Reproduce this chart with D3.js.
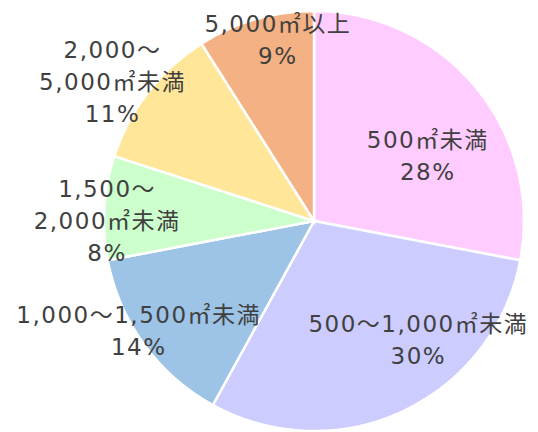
<!DOCTYPE html>
<html>
<head>
<meta charset="utf-8">
<script src="https://cdn.jsdelivr.net/npm/d3@7"></script>
<style>
  body { margin: 0; background: #fff; }
  svg text { font-family: "DejaVu Sans", "Noto Sans CJK JP", sans-serif; fill: #404040; }
</style>
</head>
<body>
<svg id="pie"></svg>
<script>
// data
const categories = ["500㎡未満", "500～1,000㎡未満", "1,000～1,500㎡未満", "1,500～2,000㎡未満", "2,000～5,000㎡未満", "5,000㎡以上"];
const shares = [28, 30, 14, 8, 11, 9];
// how each label is broken into lines
const labelLines = [
  ["500㎡未満"],
  ["500～1,000㎡未満"],
  ["1,000～1,500㎡未満"],
  ["1,500～", "2,000㎡未満"],
  ["2,000～", "5,000㎡未満"],
  ["5,000㎡以上"]
];
const colors = ["#ffccff", "#ccccff", "#9dc3e6", "#ccffcc", "#ffe699", "#f4b183"];

// label placement: angle (deg, clockwise from top) and distance as share of radius
const labelAngle = [60, 139, 238, 270, 304.5, 348.4];
const labelDist = [0.62, 0.75, 0.99, 0.99, 1.17, 0.88];

const width = 538, height = 432;
const cx = 314, cy = 221, radius = 210;

const svg = d3.select("#pie")
  .attr("width", width)
  .attr("height", height);

const g = svg.append("g")
  .attr("transform", `translate(${cx}, ${cy})`);

const pie = d3.pie()
  .sort(null)
  .value(d => d.value);

const arc = d3.arc()
  .innerRadius(0)
  .outerRadius(radius);

const rows = categories.map((c, i) => ({ name: c, value: shares[i], color: colors[i], lines: labelLines[i] }));

g.selectAll(".slice")
  .data(pie(rows))
  .enter()
  .append("path")
    .classed("slice", true)
    .attr("d", arc)
    .attr("fill", d => d.data.color)
    .attr("stroke", "#fff")
    .attr("stroke-width", 2.5);

// labels
const lineH = 32;
const labels = g.selectAll(".label")
  .data(pie(rows))
  .enter()
  .append("text")
    .classed("label", true)
    .attr("text-anchor", "middle")
    .attr("font-size", "23px")
    .attr("letter-spacing", "1.5px")
    .attr("transform", (d, i) => {
      const a = labelAngle[i] * Math.PI / 180;
      const r = labelDist[i] * radius;
      return `translate(${r * Math.sin(a) + 1}, ${-r * Math.cos(a)})`;
    });

labels.each(function(d) {
  const t = d3.select(this);
  const lines = d.data.lines.concat([`${d.data.value}%`]);
  const top = -(lines.length - 1) * lineH / 2;
  lines.forEach((ln, k) => {
    t.append("tspan")
      .attr("x", 0)
      .attr("y", top + k * lineH)
      .attr("dy", "0.35em")
      .text(ln);
  });
});
</script>
</body>
</html>
